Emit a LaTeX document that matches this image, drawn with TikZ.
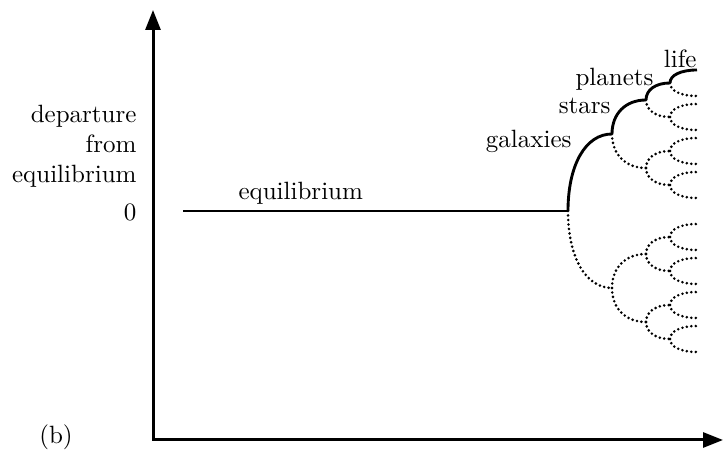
\documentclass[tikz,border=0pt]{standalone}
\usetikzlibrary{arrows.meta,calc}
\begin{document}
\begin{tikzpicture}[
    x=0.4pt, y=-0.4pt,
    every node/.style={inner sep=0pt},
    axis/.style={line width=1.2pt,{Triangle[length=8pt,width=6pt]}-{Triangle[length=8pt,width=6pt]}},
    stem/.style={line width=1.15pt},
    bud/.style={line width=1.15pt,line cap=round,dash pattern=on 0pt off 1.8pt},
    twig/.style={to path={.. controls ($(\tikztostart)!0.6!(\tikztostart |- \tikztotarget)$)
        and ($(\tikztotarget)!0.6!(\tikztostart |- \tikztotarget)$) .. (\tikztotarget)}}
]
\useasboundingbox (0,0) rectangle (727,451);

% axes
\coordinate (origin) at (153,440);
\coordinate (ytip) at (153,10);
\coordinate (xtip) at (723,440);
\draw[axis] (ytip) -- (origin) -- (xtip);

% labels on the left
\node[anchor=north east,align=right] (departure) at (137,105) {departure\\from\\equilibrium};
\node[anchor=east] (zero) at (137,212) {0};
\node (panel) at (56,437) {(b)};

% equilibrium branch
\coordinate (eqstart) at (183,211);
\coordinate (t0-0) at (568,211);
\draw[stem] (eqstart) -- (t0-0);
\node[anchor=base west] (eqlabel) at (238,200) {equilibrium};

% bifurcation tree
\foreach \lev/\dx/\off [remember=\lev as \prev (initially 0)] in {1/44/77, 2/34/34, 3/24/17, 4/27/13} {
    \pgfmathtruncatemacro\nn{2^\lev-1}
    \foreach \i in {0,...,\nn} {
        \pgfmathtruncatemacro\up{div(\i,2)}
        \pgfmathtruncatemacro\sgn{2*mod(\i,2)-1}
        \path (t\prev-\up) ++(\dx,\sgn*\off) coordinate (t\lev-\i);
        \ifnum\i=0 \def\sty{stem}\else\def\sty{bud}\fi
        \draw[\sty] (t\prev-\up) to[twig] (t\lev-\i);
    }
}

% structures
\node[anchor=base east] (galaxies) at (572,148) {galaxies};
\node[anchor=base east] (stars) at (611,114) {stars};
\node[anchor=base east] (planets) at (654,86) {planets};
\node[anchor=base east] (life) at (697,68) {life};

\end{tikzpicture}
\end{document}
